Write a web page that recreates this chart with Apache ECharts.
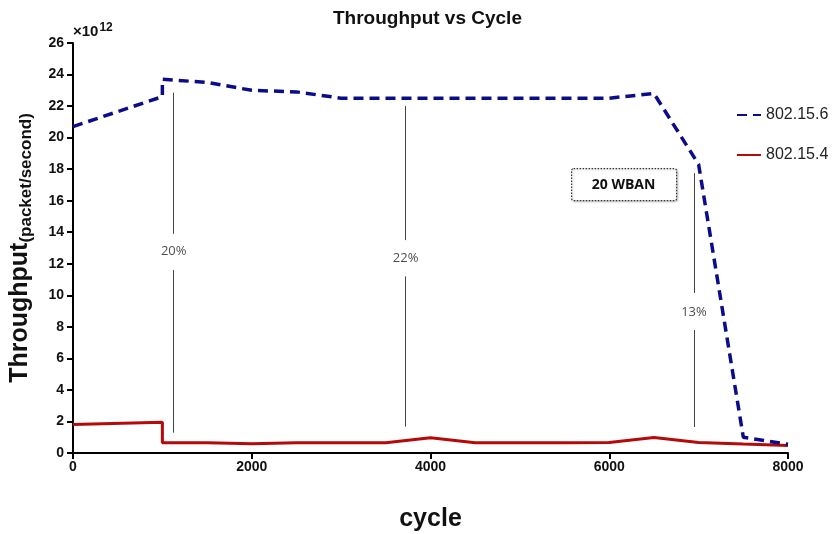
<!DOCTYPE html>
<html>
<head>
<meta charset="utf-8">
<script src="https://cdn.jsdelivr.net/npm/echarts@6/dist/echarts.min.js"></script>
<style>
  html, body { margin: 0; padding: 0; background: #fff; }
  #chart { width: 838px; height: 534px; }
</style>
</head>
<body>
<div id="chart"></div>
<script>
// values are in units of 10^12 packet/second
const cycles154 = [0, 1000, 1000, 1500, 2000, 2500, 3000, 3500, 4000, 4500, 5000, 5500, 6000, 6500, 7000, 7500, 8000]
const thr154 = [1.8, 1.95, 0.65, 0.65, 0.58, 0.65, 0.65, 0.65, 0.97, 0.65, 0.65, 0.65, 0.67, 0.98, 0.67, 0.57, 0.48]

const cycles156 = [0, 1000, 1000, 1500, 2000, 2500, 3000, 3500, 4000, 4500, 5000, 5500, 6000, 6500, 7000, 7500, 8000]
const thr156 = [20.7, 22.6, 23.7, 23.5, 23.0, 22.9, 22.5, 22.5, 22.5, 22.5, 22.5, 22.5, 22.5, 22.8, 18.3, 1.0, 0.55]

// gain annotations: x position, line top, gap top, label y, gap bottom, line bottom
const gainX = [1127, 3722, 6948]
const gainTop = [22.85, 22.0, 17.75]
const gainGapTop = [13.9, 13.5, 10.15]
const gainLabelY = [12.8, 12.35, 8.94]
const gainGapBottom = [11.6, 11.2, 7.8]
const gainBottom = [1.29, 1.67, 1.65]
const gainText = ['20%', '22%', '13%']

const xTicks = [0, 2000, 4000, 6000, 8000]
const yMax = 26

const chart = echarts.init(document.getElementById('chart'))

const pairs = (xs, ys) => xs.map((x, i) => [x, ys[i]])

let segs = []
gainX.forEach((x, i) => {
  segs.push([{coord: [x, gainTop[i]]}, {coord: [x, gainGapTop[i]]}])
  segs.push([{coord: [x, gainGapBottom[i]]}, {coord: [x, gainBottom[i]]}])
})

chart.setOption({
  backgroundColor: '#fff',
  animation: false,
  title: {
    text: 'Throughput vs Cycle',
    left: 328,
    top: 4,
    textStyle: {
      fontFamily: 'Liberation Sans',
      fontWeight: 'bold',
      fontSize: 19,
      color: '#111'
    }
  },
  legend: {
    data: ['802.15.6', '802.15.4'],
    orient: 'vertical',
    left: 731,
    top: 102,
    itemGap: 24,
    itemWidth: 24,
    itemHeight: 19,
    itemStyle: {opacity: 0},
    textStyle: {
      fontFamily: 'Liberation Sans',
      fontSize: 16,
      color: '#222'
    }
  },
  grid: {
    left: 73,
    right: 50,
    top: 43,
    bottom: 81,
    outerBoundsMode: 'none'
  },
  xAxis: {
    type: 'value',
    min: 0,
    max: 8000,
    interval: 2000,
    name: 'cycle',
    nameLocation: 'middle',
    nameGap: 54,
    nameTextStyle: {
      fontFamily: 'Liberation Sans',
      fontWeight: 'bold',
      fontSize: 25,
      color: '#111'
    },
    axisLine: {lineStyle: {color: '#000', width: 2}},
    axisTick: {inside: false, length: 6, lineStyle: {color: '#000', width: 2}},
    axisLabel: {
      fontFamily: 'Liberation Sans',
      fontWeight: 'bold',
      fontSize: 14,
      color: '#111',
      margin: 7,
      formatter: v => xTicks.includes(v) ? String(v) : ''
    },
    splitLine: {show: false}
  },
  yAxis: {
    type: 'value',
    min: 0,
    max: yMax,
    interval: 2,
    name: '{a|Throughput}{b|(packet/second)}',
    nameLocation: 'middle',
    nameGap: 38,
    nameTextStyle: {
      color: '#111',
      rich: {
        a: {fontFamily: 'Liberation Sans', fontWeight: 'bold', fontSize: 25, color: '#111', verticalAlign: 'bottom', padding: [0, 0, 2, 0]},
        b: {fontFamily: 'Liberation Sans', fontWeight: 'bold', fontSize: 17, color: '#111', verticalAlign: 'bottom'}
      }
    },
    axisLine: {show: true, lineStyle: {color: '#000', width: 2}},
    axisTick: {show: true, inside: false, length: 6, lineStyle: {color: '#000', width: 2}},
    axisLabel: {
      fontFamily: 'Liberation Sans',
      fontWeight: 'bold',
      fontSize: 14,
      color: '#111',
      margin: 9
    },
    splitLine: {show: false}
  },
  series: [
    {
      name: '802.15.6',
      type: 'line',
      data: pairs(cycles156, thr156),
      symbol: 'none',
      z: 3,
      lineStyle: {color: '#0c0c8a', width: 3.5, type: [10, 6]},
      itemStyle: {color: '#0c0c8a'}
    },
    {
      name: '802.15.4',
      type: 'line',
      data: pairs(cycles154, thr154),
      symbol: 'none',
      z: 2,
      lineStyle: {color: '#b40a0a', width: 3},
      itemStyle: {color: '#b40a0a'},
      markLine: {
        silent: true,
        symbol: 'none',
        label: {show: false},
        lineStyle: {color: '#444', width: 1, type: 'solid'},
        data: segs
      }
    },
    {
      name: 'gain',
      type: 'scatter',
      data: gainX.map((x, i) => [x, gainLabelY[i], gainText[i]]),
      symbolSize: 0,
      silent: true,
      label: {
        show: true,
        position: 'inside',
        formatter: p => p.value[2],
        fontFamily: 'Open Sans',
        fontSize: 13,
        color: '#222'
      }
    }
  ],
  graphic: [
    {
      type: 'text',
      left: 73,
      top: 22,
      style: {
        text: '×10{s|12}',
        fontFamily: 'Liberation Sans',
        fontWeight: 'bold',
        fontSize: 15,
        fill: '#111',
        rich: {
          s: {fontFamily: 'Liberation Sans', fontWeight: 'bold', fontSize: 12, fill: '#111', verticalAlign: 'top', padding: [0, 0, 8, 1]}
        }
      }
    },
    {
      type: 'group',
      left: 571,
      top: 168,
      children: [
        {
          type: 'rect',
          shape: {x: 0, y: 0, width: 105, height: 32, r: 2},
          style: {fill: '#fff', stroke: '#333', lineWidth: 1.2, lineDash: [1.5, 1.5],
            shadowBlur: 2, shadowColor: 'rgba(0,0,0,0.25)', shadowOffsetX: 1, shadowOffsetY: 1}
        },
        {
          type: 'text',
          x: 52,
          y: 16,
          style: {
            text: '20 WBAN',
            align: 'center',
            verticalAlign: 'middle',
            fontFamily: 'Open Sans',
            fontWeight: 'bold',
            fontSize: 14,
            fill: '#111'
          }
        }
      ]
    }
  ]
})
</script>
</body>
</html>
